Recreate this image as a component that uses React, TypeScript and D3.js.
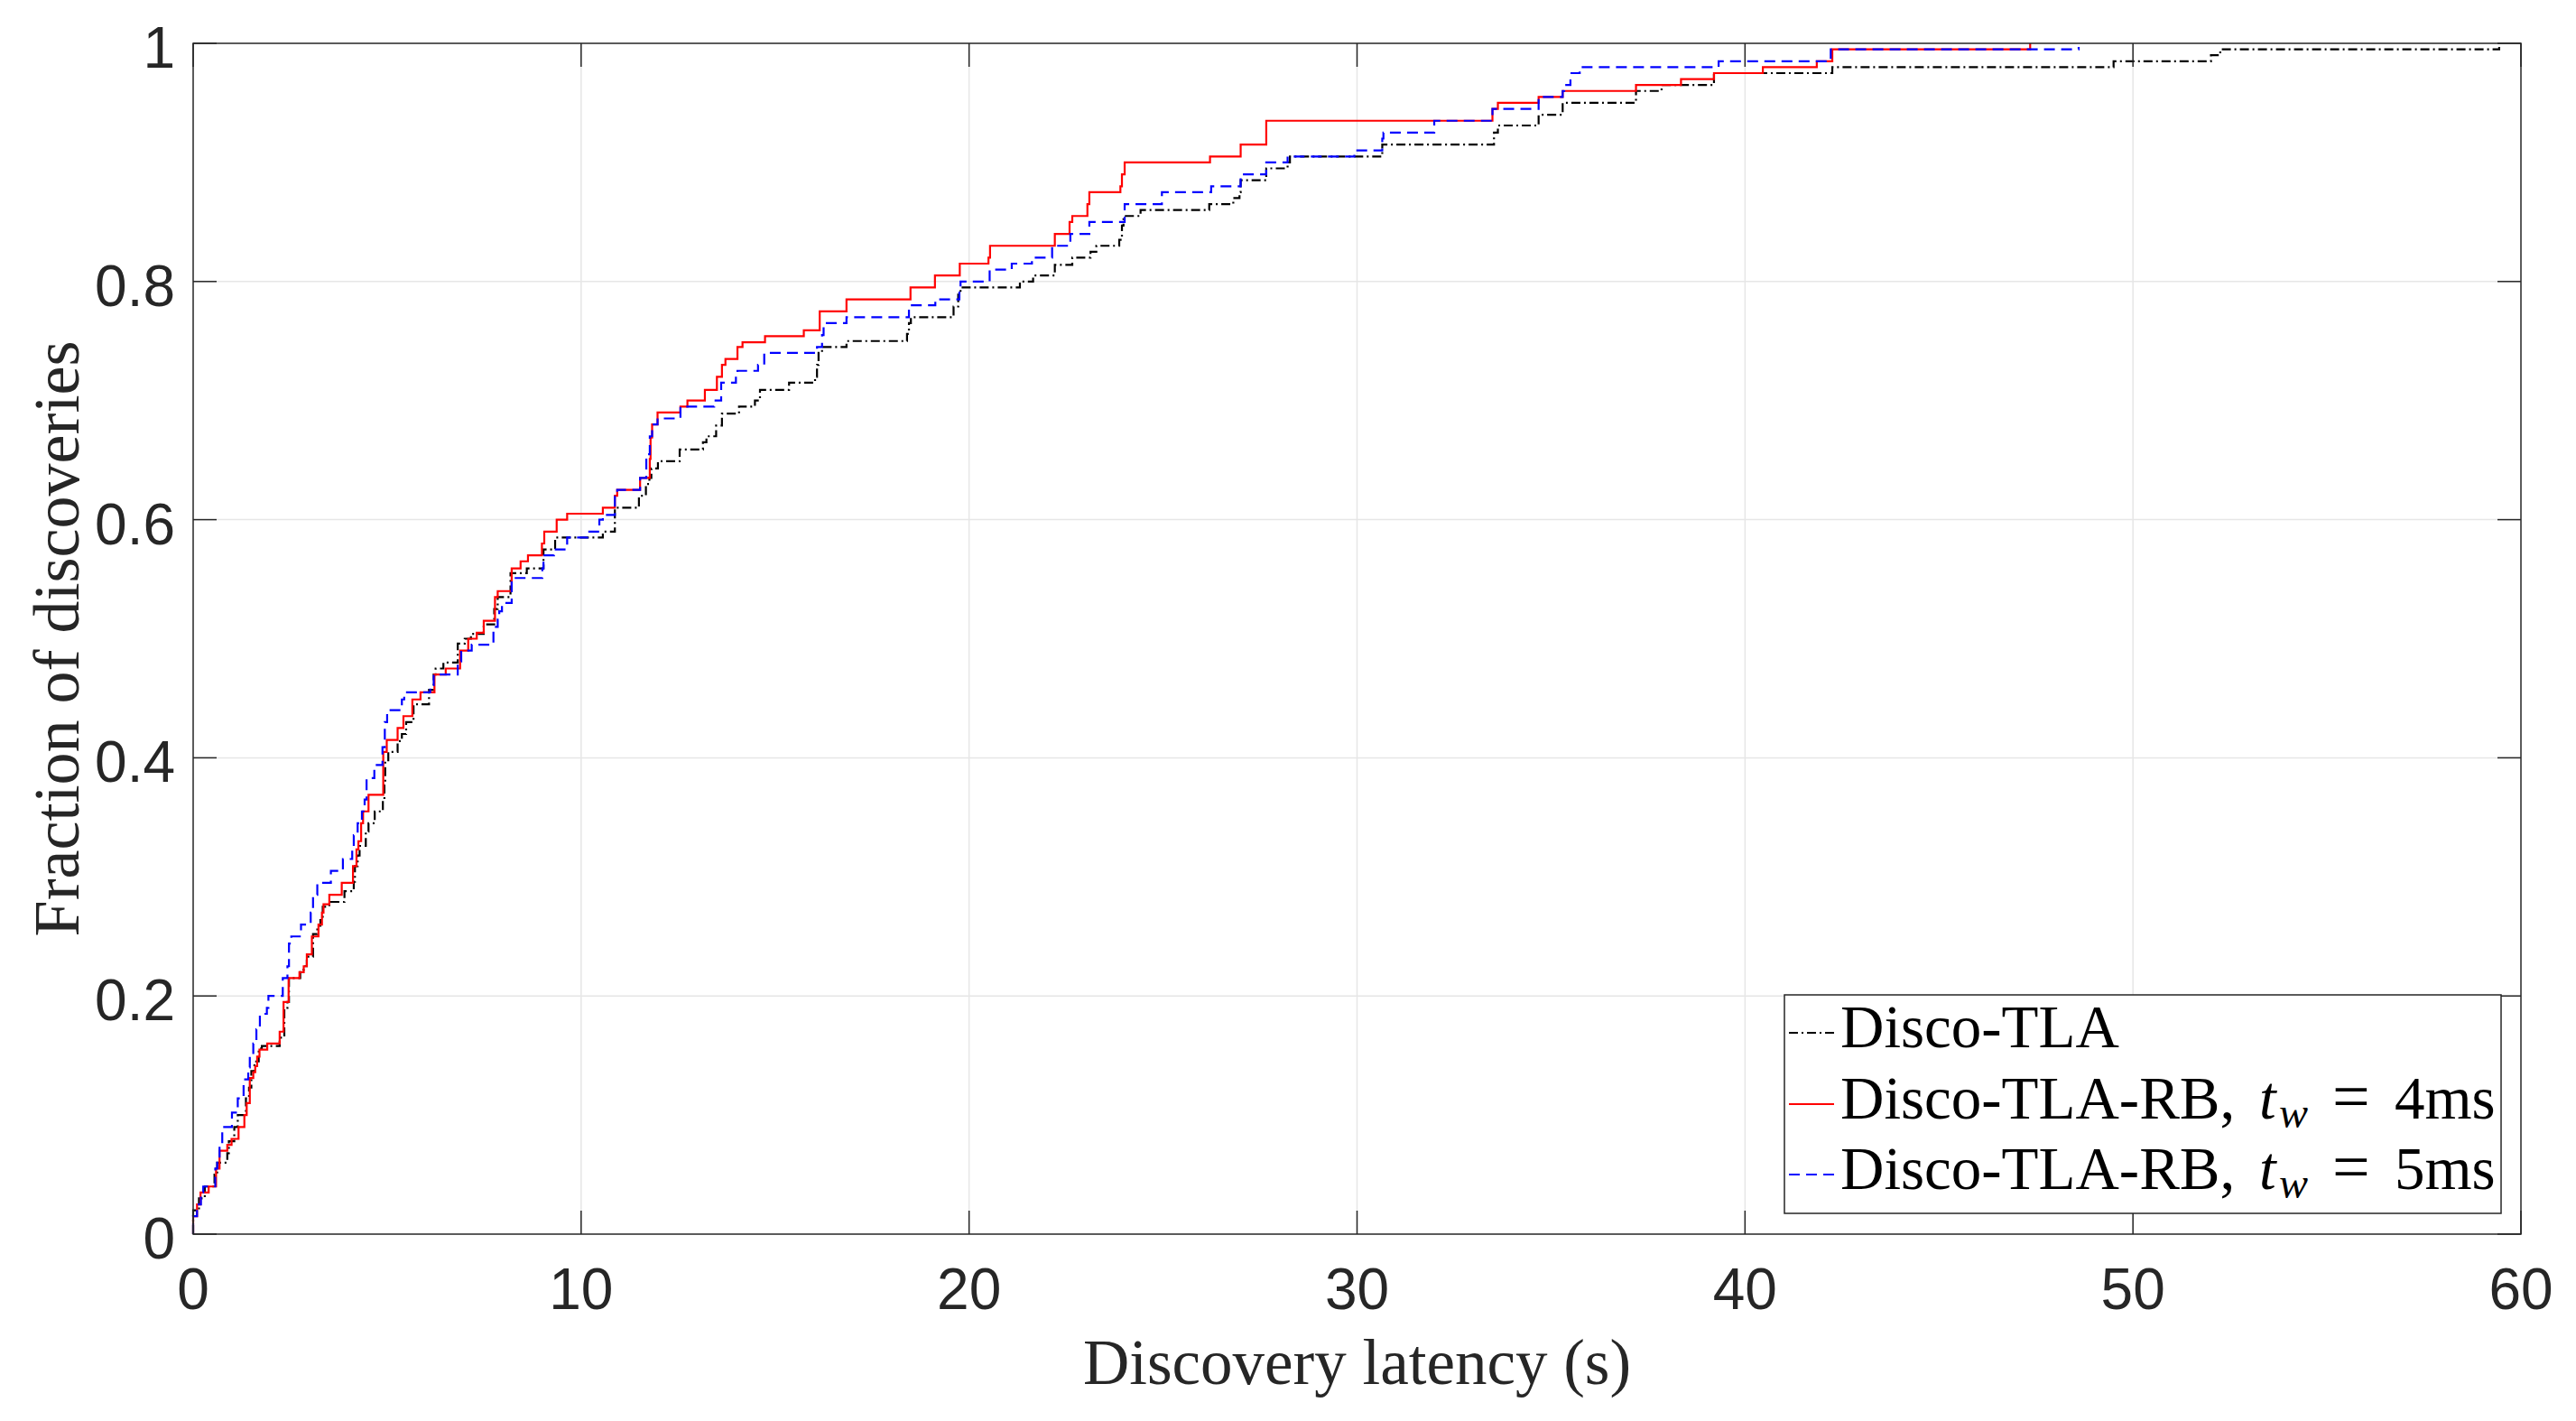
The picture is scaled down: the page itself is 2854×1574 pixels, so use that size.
import React from 'react';
import * as d3 from 'd3';

const W = 2854;
const H = 1574;

// Axis ticks
const xTicks = [0, 10, 20, 30, 40, 50, 60];
const yTicks = [0, 0.2, 0.4, 0.6, 0.8, 1];
const yTickLabels = ['0', '0.2', '0.4', '0.6', '0.8', '1'];

// Series: [latency (s), cumulative fraction] step points
const discoTLA: [number, number][] = [
  [0, 0.02], [0.15, 0.03], [0.3, 0.04], [0.55, 0.05], [0.62, 0.06], [0.88, 0.068], [0.92, 0.078],
  [1.06, 0.09], [1.15, 0.1], [1.36, 0.114], [1.44, 0.123], [1.5, 0.137], [1.58, 0.145], [1.69, 0.156],
  [1.77, 0.158], [2.23, 0.165], [2.35, 0.19], [2.43, 0.195], [2.47, 0.215], [2.76, 0.222], [2.85, 0.225],
  [2.93, 0.233], [3.09, 0.252], [3.2, 0.259], [3.28, 0.265], [3.34, 0.275], [3.51, 0.279], [3.9, 0.288],
  [4.14, 0.296], [4.17, 0.309], [4.24, 0.318], [4.29, 0.326], [4.45, 0.338], [4.52, 0.345], [4.68, 0.355],
  [4.89, 0.364], [4.93, 0.377], [4.95, 0.397], [5.03, 0.405], [5.27, 0.414], [5.38, 0.42], [5.49, 0.43],
  [5.68, 0.445], [6.08, 0.457], [6.2, 0.47], [6.25, 0.475], [6.45, 0.48], [6.82, 0.496], [7.0, 0.5],
  [7.16, 0.504], [7.49, 0.512], [7.76, 0.525], [7.85, 0.535], [8.18, 0.555], [8.6, 0.559], [9.03, 0.575],
  [9.33, 0.585], [10.56, 0.59], [10.87, 0.61], [11.49, 0.62], [11.67, 0.63], [11.76, 0.635], [11.81, 0.643],
  [11.98, 0.649], [12.54, 0.659], [13.14, 0.665], [13.23, 0.67], [13.48, 0.679], [13.63, 0.689],
  [14.07, 0.695], [14.48, 0.7], [14.61, 0.709], [15.36, 0.715], [16.03, 0.72], [16.08, 0.73], [16.12, 0.74],
  [16.21, 0.745], [16.84, 0.75], [18.4, 0.756], [18.45, 0.765], [18.5, 0.77], [19.6, 0.779], [19.72, 0.789],
  [19.78, 0.795], [21.31, 0.8], [21.65, 0.805], [22.21, 0.814], [22.66, 0.82], [23.13, 0.825], [23.28, 0.83],
  [23.87, 0.835], [23.94, 0.847], [23.98, 0.855], [24.42, 0.86], [26.19, 0.865], [26.81, 0.87],
  [26.97, 0.875], [27.0, 0.885], [27.66, 0.895], [28.21, 0.9], [28.27, 0.905], [30.65, 0.915],
  [33.53, 0.925], [33.63, 0.931], [34.68, 0.94], [35.3, 0.95], [37.19, 0.96], [37.85, 0.965], [39.2, 0.975],
  [42.25, 0.98], [49.5, 0.985], [52.01, 0.99], [52.25, 0.995], [59.44, 1.0],
];

const discoRB4: [number, number][] = [
  [0, 0.015], [0.1, 0.025], [0.19, 0.035], [0.4, 0.04], [0.59, 0.055], [0.68, 0.07], [0.88, 0.075],
  [0.99, 0.08], [1.17, 0.09], [1.32, 0.1], [1.38, 0.11], [1.46, 0.131], [1.55, 0.136], [1.6, 0.141],
  [1.65, 0.149], [1.71, 0.155], [1.91, 0.16], [2.23, 0.17], [2.33, 0.195], [2.46, 0.215], [2.74, 0.22],
  [2.85, 0.225], [2.93, 0.235], [3.06, 0.25], [3.23, 0.26], [3.32, 0.27], [3.36, 0.277], [3.51, 0.285],
  [3.83, 0.295], [4.12, 0.309], [4.21, 0.323], [4.26, 0.33], [4.33, 0.345], [4.38, 0.355], [4.52, 0.369],
  [4.9, 0.405], [4.99, 0.415], [5.27, 0.425], [5.42, 0.435], [5.65, 0.449], [5.86, 0.455], [6.22, 0.47],
  [6.51, 0.475], [6.88, 0.49], [7.09, 0.5], [7.31, 0.505], [7.49, 0.515], [7.78, 0.535], [7.85, 0.54],
  [8.21, 0.559], [8.44, 0.565], [8.63, 0.57], [8.99, 0.58], [9.05, 0.59], [9.37, 0.6], [9.64, 0.605],
  [10.56, 0.61], [10.87, 0.62], [10.93, 0.625], [11.52, 0.635], [11.77, 0.651], [11.79, 0.669],
  [11.83, 0.68], [11.97, 0.69], [12.56, 0.695], [12.74, 0.7], [13.19, 0.709], [13.5, 0.72], [13.63, 0.73],
  [13.72, 0.735], [14.03, 0.745], [14.16, 0.749], [14.74, 0.754], [15.74, 0.759], [16.15, 0.775],
  [16.84, 0.785], [18.49, 0.795], [19.12, 0.805], [19.76, 0.815], [20.5, 0.82], [20.54, 0.83],
  [22.21, 0.84], [22.59, 0.85], [22.66, 0.855], [23.05, 0.865], [23.1, 0.875], [23.9, 0.88], [23.94, 0.89],
  [24.01, 0.9], [26.21, 0.905], [27.0, 0.915], [27.66, 0.935], [33.49, 0.945], [33.63, 0.95],
  [34.68, 0.955], [35.3, 0.96], [37.19, 0.965], [38.35, 0.97], [39.2, 0.975], [40.46, 0.98],
  [41.85, 0.985], [42.25, 0.995], [47.35, 1.0],
];

const discoRB5: [number, number][] = [
  [0, 0.015], [0.1, 0.025], [0.2, 0.035], [0.26, 0.04], [0.57, 0.055], [0.62, 0.065], [0.68, 0.075],
  [0.75, 0.09], [1.0, 0.102], [1.15, 0.114], [1.3, 0.13], [1.42, 0.14], [1.46, 0.15], [1.55, 0.16],
  [1.63, 0.172], [1.72, 0.185], [1.9, 0.19], [1.94, 0.2], [2.31, 0.215], [2.43, 0.225], [2.47, 0.244],
  [2.53, 0.25], [2.78, 0.26], [3.03, 0.27], [3.09, 0.285], [3.2, 0.295], [3.55, 0.305], [3.86, 0.315],
  [4.1, 0.323], [4.14, 0.335], [4.24, 0.345], [4.35, 0.355], [4.42, 0.365], [4.47, 0.383], [4.67, 0.394],
  [4.88, 0.409], [4.94, 0.43], [5.0, 0.44], [5.38, 0.449], [5.44, 0.455], [6.11, 0.461], [6.2, 0.47],
  [6.82, 0.481], [6.91, 0.49], [7.18, 0.495], [7.74, 0.51], [7.85, 0.516], [7.89, 0.523], [7.96, 0.53],
  [8.21, 0.551], [9.0, 0.559], [9.03, 0.57], [9.3, 0.575], [9.64, 0.585], [10.16, 0.59], [10.47, 0.6],
  [10.56, 0.604], [10.87, 0.62], [10.93, 0.625], [11.52, 0.635], [11.68, 0.655], [11.77, 0.67],
  [11.83, 0.68], [11.97, 0.685], [12.56, 0.695], [13.43, 0.7], [13.61, 0.715], [13.99, 0.72],
  [14.03, 0.725], [14.56, 0.73], [14.72, 0.74], [16.08, 0.745], [16.21, 0.755], [16.25, 0.765],
  [16.84, 0.77], [18.45, 0.78], [19.13, 0.785], [19.75, 0.794], [19.78, 0.8], [20.53, 0.81], [21.1, 0.815],
  [21.62, 0.82], [22.14, 0.83], [22.61, 0.84], [23.1, 0.85], [24.01, 0.865], [24.97, 0.875], [26.24, 0.88],
  [27.0, 0.89], [27.66, 0.9], [28.21, 0.905], [29.93, 0.91], [30.65, 0.92], [30.68, 0.925], [31.99, 0.935],
  [33.49, 0.945], [34.68, 0.955], [35.3, 0.96], [35.34, 0.965], [35.5, 0.975], [35.74, 0.98],
  [39.32, 0.985], [42.21, 0.995], [48.6, 0.997],
];

const seriesNames = ['Disco-TLA', 'Disco-TLA-RB, ', 'Disco-TLA-RB, '];
const seriesTw = ['', '4ms', '5ms'];

const AX = '#262626';
const FONT_SANS = '"Liberation Sans", Arial, Helvetica, sans-serif';
const FONT_SERIF = '"Liberation Serif", "Times New Roman", serif';

export default function App() {
  const L = 214, R = 2793, T = 48, B = 1367;
  const x = d3.scaleLinear().domain([0, 60]).range([L, R]);
  const y = d3.scaleLinear().domain([0, 1]).range([B, T]);
  const line = d3
    .line<[number, number]>()
    .x((d) => x(d[0]))
    .y((d) => y(d[1]))
    .curve(d3.curveStepAfter);
  const mk = (s: [number, number][]) => line([[s[0][0], 0], ...s]) || '';

  const styles = [
    { color: '#000000', dash: '10,4,2,4' },
    { color: '#ff0000', dash: 'none' },
    { color: '#0000ff', dash: '12,7' },
  ];
  const data = [discoTLA, discoRB4, discoRB5];
  const tick = 26;

  const legX = 1977, legY = 1102, legW = 794, legH = 242;
  const baselines = [1160, 1239, 1317];

  return (
    <svg
      width={W}
      height={H}
      viewBox={`0 0 ${W} ${H}`}
      style={{ position: 'fixed', left: 0, top: 0, background: '#fff' }}
    >
      <rect x={0} y={0} width={W} height={H} fill="#fff" />
      {/* grid */}
      {xTicks.slice(1, -1).map((t) => (
        <line key={'gx' + t} x1={x(t)} x2={x(t)} y1={T} y2={B} stroke="#e6e6e6" strokeWidth={1.5} />
      ))}
      {yTicks.slice(1, -1).map((t) => (
        <line key={'gy' + t} x1={L} x2={R} y1={y(t)} y2={y(t)} stroke="#e6e6e6" strokeWidth={1.5} />
      ))}
      <defs>
        <clipPath id="clip">
          <rect x={L - 2} y={T - 2} width={R - L + 4} height={B - T + 4} />
        </clipPath>
      </defs>
      {/* series */}
      <g clipPath="url(#clip)">
        {data.map((s, i) => (
          <path
            key={'s' + i}
            d={mk(s)}
            fill="none"
            stroke={styles[i].color}
            strokeWidth={2.2}
            strokeDasharray={styles[i].dash}
          />
        ))}
      </g>
      {/* box */}
      <rect x={L} y={T} width={R - L} height={B - T} fill="none" stroke={AX} strokeWidth={1.5} />
      {/* ticks */}
      {xTicks.map((t) => (
        <g key={'tx' + t}>
          <line x1={x(t)} x2={x(t)} y1={B} y2={B - tick} stroke={AX} strokeWidth={1.5} />
          <line x1={x(t)} x2={x(t)} y1={T} y2={T + tick} stroke={AX} strokeWidth={1.5} />
          <text x={x(t)} y={1450} textAnchor="middle" fontFamily={FONT_SANS} fontSize={64} fill={AX}>
            {t}
          </text>
        </g>
      ))}
      {yTicks.map((t, i) => (
        <g key={'ty' + t}>
          <line x1={L} x2={L + tick} y1={y(t)} y2={y(t)} stroke={AX} strokeWidth={1.5} />
          <line x1={R} x2={R - tick} y1={y(t)} y2={y(t)} stroke={AX} strokeWidth={1.5} />
          <text x={194} y={y(t) + 27} textAnchor="end" fontFamily={FONT_SANS} fontSize={64} fill={AX}>
            {yTickLabels[i]}
          </text>
        </g>
      ))}
      {/* axis labels */}
      <text x={(L + R) / 2} y={1533} textAnchor="middle" fontFamily={FONT_SERIF} fontSize={71} fill={AX}>
        Discovery latency (s)
      </text>
      <text
        transform={`translate(87, ${(T + B) / 2}) rotate(-90)`}
        textAnchor="middle"
        fontFamily={FONT_SERIF}
        fontSize={72}
        fill={AX}
      >
        Fraction of discoveries
      </text>
      {/* legend */}
      <rect x={legX} y={legY} width={legW} height={legH} fill="#fff" stroke={AX} strokeWidth={1.5} />
      {seriesNames.map((n, i) => (
        <g key={'lg' + i}>
          <line
            x1={1982}
            x2={2032}
            y1={baselines[i] - 16}
            y2={baselines[i] - 16}
            stroke={styles[i].color}
            strokeWidth={2.2}
            strokeDasharray={styles[i].dash}
          />
          <text x={2039} y={baselines[i]} fontFamily={FONT_SERIF} fontSize={67} fill="#000">
            {n}
            {seriesTw[i] && (
              <>
                <tspan x={2503} fontStyle="italic">t</tspan>
                <tspan x={2525} dy={10} fontStyle="italic" fontSize={48}>w</tspan>
                <tspan x={2584} dy={-10} fontSize={74}>=</tspan>
                <tspan x={2653}>{seriesTw[i]}</tspan>
              </>
            )}
          </text>
        </g>
      ))}
    </svg>
  );
}
